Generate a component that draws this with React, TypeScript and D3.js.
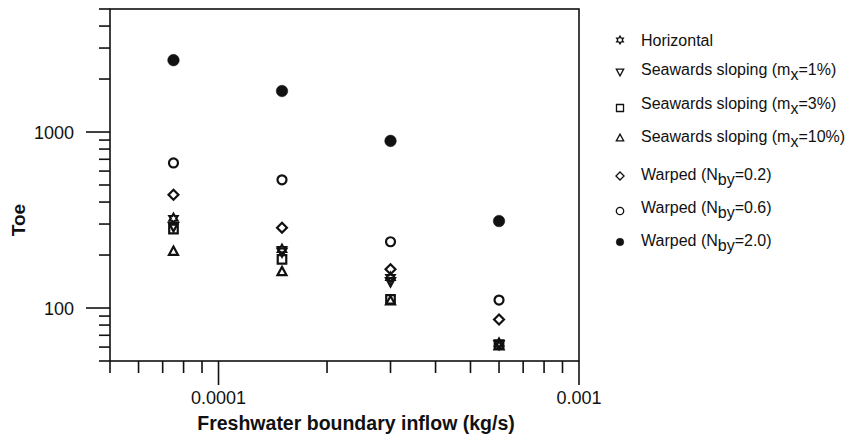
import React from "react";
import * as d3 from "d3";

const xVals = [7.5e-5, 1.5e-4, 3e-4, 6e-4];
const horizontal = [323, 215, 149, 63];
const slope1 = [290, 208, 141, 62];
const slope3 = [281, 189, 112, 62];
const slope10 = [210, 161, 110, 61];
const warped02 = [440, 286, 166, 86];
const warped06 = [667, 535, 238, 111];
const warped20 = [2560, 1710, 890, 312];

const xMajorLabels = ["0.0001", "0.001"];
const yMajorLabels = ["100", "1000"];

type Series = { key: string; shape: string; values: number[]; label: [string, string, string] };
const series: Series[] = [
  { key: "h", shape: "star", values: horizontal, label: ["Horizontal", "", ""] },
  { key: "s1", shape: "tridown", values: slope1, label: ["Seawards sloping (m", "x", "=1%)"] },
  { key: "s3", shape: "square", values: slope3, label: ["Seawards sloping (m", "x", "=3%)"] },
  { key: "s10", shape: "triup", values: slope10, label: ["Seawards sloping (m", "x", "=10%)"] },
  { key: "w02", shape: "diamond", values: warped02, label: ["Warped (N", "by", "=0.2)"] },
  { key: "w06", shape: "circle", values: warped06, label: ["Warped (N", "by", "=0.6)"] },
  { key: "w20", shape: "filled", values: warped20, label: ["Warped (N", "by", "=2.0)"] },
];
const legendMarkerY = [40, 72, 108, 138, 176, 211, 242];
const legendTextY = [40, 69, 103, 136, 174, 207, 240];

function shapePath(shape: string, r: number): string {
  if (shape === "circle" || shape === "filled") {
    const p = d3.path();
    p.arc(0, 0, r, 0, Math.PI * 2);
    p.closePath();
    return p.toString();
  }
  if (shape === "square") {
    const s = r * 0.95;
    return `M${-s},${-s}L${s},${-s}L${s},${s}L${-s},${s}Z`;
  }
  if (shape === "diamond") {
    const s = r * 1.1;
    return `M0,${-s}L${s},0L0,${s}L${-s},0Z`;
  }
  if (shape === "triup") {
    const s = r * 1.05;
    return `M0,${-s}L${s * 0.95},${s * 0.75}L${-s * 0.95},${s * 0.75}Z`;
  }
  if (shape === "tridown") {
    const s = r * 1.05;
    return `M0,${s}L${s * 0.95},${-s * 0.75}L${-s * 0.95},${-s * 0.75}Z`;
  }
  const pts: string[] = [];
  for (let i = 0; i < 12; i++) {
    const a = (Math.PI / 6) * i - Math.PI / 2;
    const rr = i % 2 === 0 ? r * 1.05 : r * 0.6;
    pts.push(`${(Math.cos(a) * rr).toFixed(2)},${(Math.sin(a) * rr).toFixed(2)}`);
  }
  return "M" + pts.join("L") + "Z";
}

const W = 846;
const H = 437;
const left = 110, right = 579, top = 9, bottom = 361;

export default function App() {
  const x = d3.scaleLog().domain([5e-5, 1e-3]).range([left, right]);
  const y = d3.scaleLog().domain([50, 5000]).range([bottom, top]);
  const isMajor = (v: number) => Math.abs(Math.log10(v) - Math.round(Math.log10(v))) < 1e-9;
  const xTicks = x.ticks();
  const yTicks = y.ticks();
  const font = "'Liberation Sans', Arial, sans-serif";
  const ink = "#111";

  return (
    <svg width={W} height={H} style={{ position: "absolute", left: 0, top: 0, background: "#fff" }} fontFamily={font}>
      <rect x={0} y={0} width={W} height={H} fill="#fff" />
      <rect x={left} y={top} width={right - left} height={bottom - top} fill="none" stroke={ink} strokeWidth={1.6} />
      {xTicks.map((t, i) => {
        const maj = isMajor(t);
        return <line key={"xt" + i} x1={x(t)} x2={x(t)} y1={bottom} y2={bottom + (maj ? 24 : 12)} stroke={ink} strokeWidth={1.6} />;
      })}
      {xTicks.filter(isMajor).map((t, i) => (
        <text key={"xl" + i} x={x(t)} y={403.5} textAnchor="middle" fontSize={18} fill={ink}>{xMajorLabels[i]}</text>
      ))}
      {yTicks.map((t, i) => {
        const maj = isMajor(t);
        return <line key={"yt" + i} x1={left - (maj ? 24 : 11)} x2={left} y1={y(t)} y2={y(t)} stroke={ink} strokeWidth={1.6} />;
      })}
      {yTicks.filter(isMajor).map((t, i) => (
        <text key={"yl" + i} x={74} y={y(t) + 6.5} textAnchor="end" fontSize={18} fill={ink}>{yMajorLabels[i]}</text>
      ))}
      <text x={356} y={430} textAnchor="middle" fontSize={19.5} fontWeight="bold" fill={ink}>Freshwater boundary inflow (kg/s)</text>
      <text transform={`translate(25,220) rotate(-90)`} textAnchor="middle" fontSize={19} fontWeight="bold" fill={ink}>Toe</text>
      {series.map((s) => (
        <g key={s.key}>
          {s.values.map((v, i) => (
            <path
              key={i}
              transform={`translate(${x(xVals[i])},${y(v)})`}
              d={shapePath(s.shape, s.shape === "filled" ? 5.8 : 4.5)}
              fill={s.shape === "filled" ? ink : "none"}
              stroke={ink}
              strokeWidth={s.shape === "filled" ? 0.5 : 2.2}
            />
          ))}
        </g>
      ))}
      {series.map((s, i) => (
        <g key={"lg" + s.key}>
          <path
            transform={`translate(620,${legendMarkerY[i]})`}
            d={shapePath(s.shape, s.shape === "filled" ? 3.8 : 3.7)}
            fill={s.shape === "filled" ? ink : "none"}
            stroke={ink}
            strokeWidth={s.shape === "filled" ? 0.5 : 1.3}
          />
          <text x={641} y={legendTextY[i] + 5.5} fontSize={16} fill={ink}>
            {s.label[0]}
            {s.label[1] && <tspan dy={5}>{s.label[1]}</tspan>}
            {s.label[2] && <tspan dy={-5}>{s.label[2]}</tspan>}
          </text>
        </g>
      ))}
    </svg>
  );
}
